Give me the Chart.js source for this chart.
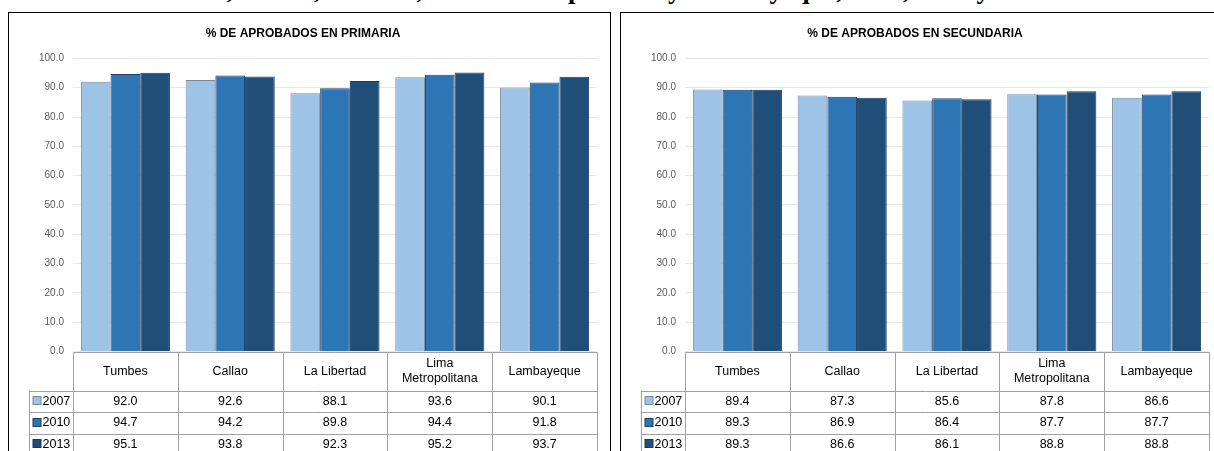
<!DOCTYPE html>
<html>
<head>
<meta charset="utf-8">
<title>% de aprobados en primaria y secundaria</title>
<script src="https://cdn.jsdelivr.net/npm/chart.js@4.4.1/dist/chart.umd.min.js"></script>
<style>
  html, body { margin: 0; padding: 0; width: 1214px; height: 451px; overflow: hidden; background: #fff; }
  .caption {
    position: absolute; left: 88px; top: -26px;
    font: bold 26.7px "Liberation Serif", serif; line-height: 30px;
    white-space: nowrap; color: #000;
  }
  .panel { position: absolute; top: 12px; width: 601px; height: 460px; border: 1px solid #000; background: #fff; }
  #panel1 { left: 8px; }
  #panel2 { left: 620px; }
  canvas { display: block; }
</style>
</head>
<body>
<div class="caption">La Libertad, Callao, Tumbes, Lima Metropolitana y Lambayeque, 2007, 2010 y 2013</div>
<div class="panel" id="panel1"><canvas id="primaria" width="601" height="446"></canvas></div>
<div class="panel" id="panel2"><canvas id="secundaria" width="601" height="446"></canvas></div>
<script>
const categories = ['Tumbes', 'Callao', 'La Libertad', ['Lima', 'Metropolitana'], 'Lambayeque'];
const years = ['2007', '2010', '2013'];

const primaria2007 = [92.0, 92.6, 88.1, 93.6, 90.1];
const primaria2010 = [94.7, 94.2, 89.8, 94.4, 91.8];
const primaria2013 = [95.1, 93.8, 92.3, 95.2, 93.7];

const secundaria2007 = [89.4, 87.3, 85.6, 87.8, 86.6];
const secundaria2010 = [89.3, 86.9, 86.4, 87.7, 87.7];
const secundaria2013 = [89.3, 86.6, 86.1, 88.8, 88.8];

const fillColors = ['#9dc3e6', '#2e75b6', '#1f4e79'];
const edgeColors = ['#7b8a99', '#1f3f63', '#183a5c'];

// Data table drawn under the plot, columns taken from the x scale
const dataTable = {
    id: 'dataTable',
    afterDraw(chart) {
        const { ctx, chartArea: a, scales: { x } } = chart;
        const labels = chart.data.labels;
        const n = labels.length;
        const headH = 37.8, rowH = 21.5, keyLeft = 20.5;
        const top = Math.round(a.bottom) + 0.5;
        const headBottom = Math.round(top + headH) + 0.5;
        const rows = chart.data.datasets.length;
        const bottom = headBottom + rows * rowH;

        const edges = [];
        for (let i = 0; i <= n; i++) {
            let px;
            if (i === 0) px = a.left;
            else if (i === n) px = a.right;
            else px = (x.getPixelForValue(i - 1) + x.getPixelForValue(i)) / 2;
            edges.push(Math.round(px) + 0.5);
        }

        ctx.save();
        ctx.strokeStyle = '#a0a0a0';
        ctx.lineWidth = 1;
        ctx.beginPath();
        ctx.moveTo(edges[0], top); ctx.lineTo(edges[n], top);
        for (let r = 0; r <= rows; r++) {
            const y = Math.round(headBottom + r * rowH) + 0.5;
            ctx.moveTo(keyLeft, y); ctx.lineTo(edges[n], y);
        }
        edges.forEach(px => { ctx.moveTo(px, top); ctx.lineTo(px, bottom); });
        ctx.moveTo(keyLeft, headBottom); ctx.lineTo(keyLeft, bottom);
        ctx.stroke();

        ctx.fillStyle = '#000';
        ctx.font = '12.5px "Liberation Sans", Arial, sans-serif';
        ctx.textBaseline = 'middle';
        ctx.textAlign = 'center';
        labels.forEach((lab, i) => {
            const lines = Array.isArray(lab) ? lab : [lab];
            const cx = x.getPixelForValue(i);
            const cy = (top + headBottom) / 2;
            lines.forEach((t, j) => ctx.fillText(t, cx, cy + (j - (lines.length - 1) / 2) * 15));
        });

        chart.data.datasets.forEach((ds, r) => {
            const cy = headBottom + r * rowH + rowH / 2;
            ctx.fillStyle = ds.backgroundColor;
            ctx.fillRect(keyLeft + 3.5, Math.round(cy) - 4.5, 8, 8);
            ctx.strokeStyle = ds.borderColor;
            ctx.strokeRect(keyLeft + 3.5, Math.round(cy) - 4.5, 8, 8);
            ctx.fillStyle = '#000';
            ctx.textAlign = 'left';
            ctx.fillText(ds.label, keyLeft + 13, cy);
            ctx.textAlign = 'center';
            ds.data.forEach((v, i) => ctx.fillText(v.toFixed(1), x.getPixelForValue(i), cy));
        });
        ctx.restore();
    }
};

function makeChart(canvasId, titleText, series) {
    const config = {
        type: 'bar',
        data: {
            labels: categories,
            datasets: series.map((values, k) => ({
                label: years[k],
                data: values,
                backgroundColor: fillColors[k],
                borderColor: edgeColors[k],
                borderWidth: 1,
                barPercentage: 1.0,
                categoryPercentage: 0.85
            }))
        },
        options: {
            responsive: false,
            animation: false,
            layout: { padding: { left: 0, right: 13, top: 0, bottom: 107.5 } },
            plugins: {
                legend: { display: false },
                tooltip: { enabled: false },
                title: {
                    display: true,
                    text: titleText,
                    color: '#000',
                    font: { family: '"Liberation Sans", Arial, sans-serif', size: 12, weight: 'bold', lineHeight: 1.2 },
                    padding: { top: 13, bottom: 18 }
                }
            },
            scales: {
                x: { display: false },
                y: {
                    min: 0,
                    max: 100,
                    ticks: {
                        stepSize: 10,
                        padding: 9,
                        color: '#595959',
                        font: { family: '"Liberation Sans", Arial, sans-serif', size: 10 },
                        callback: v => v.toFixed(1)
                    },
                    grid: { color: '#e8e8e8', drawTicks: false },
                    border: { display: false },
                    afterFit: scale => { scale.width = 64; }
                }
            }
        },
        plugins: [dataTable]
    };
    return new Chart(document.getElementById(canvasId).getContext('2d'), config);
}

makeChart('primaria', '% DE APROBADOS EN PRIMARIA', [primaria2007, primaria2010, primaria2013]);
makeChart('secundaria', '% DE APROBADOS EN SECUNDARIA', [secundaria2007, secundaria2010, secundaria2013]);
</script>
</body>
</html>
